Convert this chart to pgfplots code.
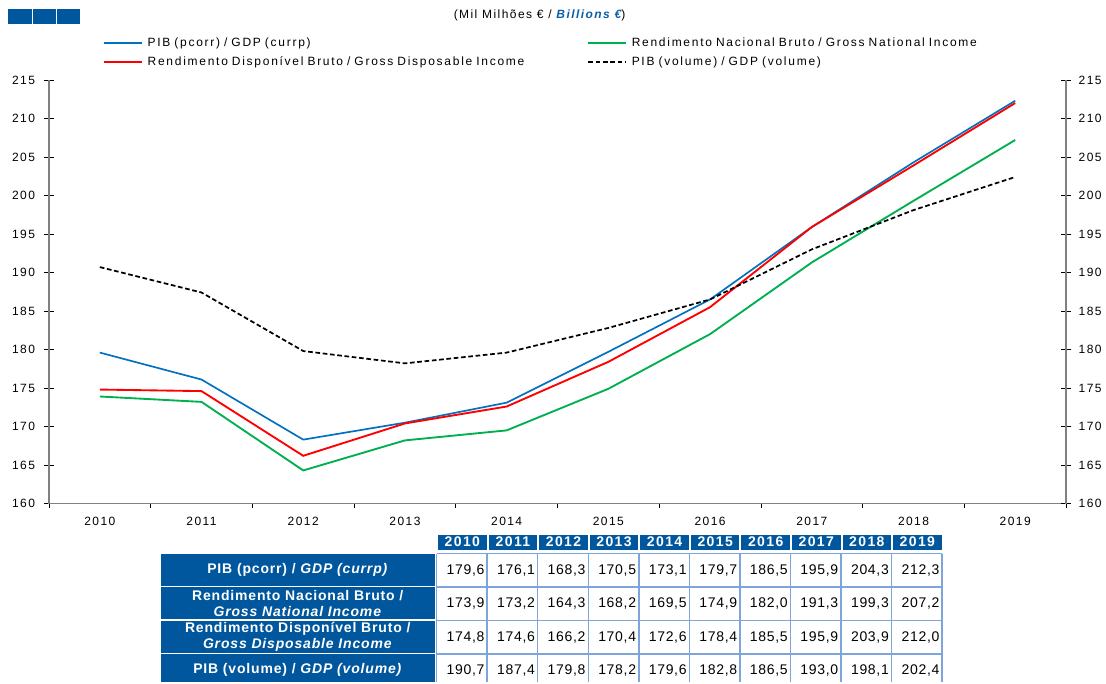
\documentclass[border=0pt]{standalone}
\usepackage{pgfplots}
\usepackage{pgfplotstable}
\pgfplotsset{compat=1.18}
\usepackage{fontspec}
\setmainfont{Liberation Sans}
\newfontfamily\spaced[LetterSpace=12]{Liberation Sans}
\newfontfamily\legfont[LetterSpace=14.5]{Liberation Sans}
\newfontfamily\valfont[LetterSpace=5]{Liberation Sans}
\newfontfamily\hdfont[LetterSpace=10]{Liberation Sans}
\newfontfamily\labfont[LetterSpace=6]{Liberation Sans}
\definecolor{lblue}{HTML}{0070C0}
\definecolor{lgreen}{HTML}{00B050}
\definecolor{lred}{HTML}{FF0000}
\definecolor{dblue}{HTML}{00579D}
\definecolor{tblue}{HTML}{0A5FA8}
\definecolor{gridblue}{HTML}{7DA5DC}
\definecolor{axgray}{HTML}{808080}

\pgfplotstableread{
x curr gni gdi vol
0 179.6 173.9 174.8 190.7
1 176.1 173.2 174.6 187.4
2 168.3 164.3 166.2 179.8
3 170.5 168.2 170.4 178.2
4 173.1 169.5 172.6 179.6
5 179.7 174.9 178.4 182.8
6 186.5 182.0 185.5 186.5
7 195.9 191.3 195.9 193.0
8 204.3 199.3 203.9 198.1
9 212.3 207.2 212.0 202.4
}\data

\begin{document}
\begin{tikzpicture}[x=0.75pt,y=0.75pt]
\path (0,0) rectangle (1106,-683);
% logo squares
\fill[dblue] (8,-9) rectangle (32,-24);
\fill[dblue] (33,-9) rectangle (56,-24);
\fill[dblue] (57,-9) rectangle (80,-24);
% title
\node[font=\spaced\fontsize{9}{11}\selectfont] at (540,-15) {(Mil Milhões € / \textcolor{tblue}{\bfseries\itshape Billions €})};

\begin{axis}[
  at={(36.75pt,-378pt)}, anchor=south west, scale only axis,
  width=763.5pt, height=318pt,
  xmin=-0.5, xmax=9.5, ymin=160, ymax=215,
  axis x line=bottom, axis y line=left,
  axis line style={-, draw=axgray, line width=0.9pt},
  xtick={0,1,2,3,4,5,6,7,8,9},
  xticklabels={2010,2011,2012,2013,2014,2015,2016,2017,2018,2019},
  major x tick style={draw=none},
  minor xtick={-0.5,0.5,...,9.5},
  minor x tick style={black, line width=0.6pt},
  minor tick length=3pt,
  xtick align=outside,
  ytick={160,165,...,215},
  ytick align=center,
  major tick length=7.5pt,
  y tick style={black, line width=0.6pt},
  /pgf/number format/assume math mode=true,
  tick label style={font=\spaced\fontsize{9}{11}\selectfont},
  yticklabel style={xshift=-3.2pt},
  xticklabel style={yshift=0.5pt},
  legend columns=2,
  /pgfplots/legend image code/.code={\draw[#1] (0pt,0pt) -- (28.5pt,0pt); \path (32pt,0pt);},
  legend style={at={(0.0491,1.1165)}, anchor=north west, draw=none, fill=none,
    font=\legfont\fontsize{9}{11}\selectfont, column sep=0pt, row sep=0pt,
    nodes={inner xsep=0pt, inner ysep=2.6pt, text height=7pt, text depth=2pt, text width=330pt, align=left}},
  legend cell align=left,
]
\addplot[lblue, line width=1.25pt] table[x=x,y=curr]{\data};
\addlegendentry{PIB (pcorr) / GDP (currp)}
\addplot[lgreen, line width=1.4pt] table[x=x,y=gni]{\data};
\addlegendentry{Rendimento Nacional Bruto / Gross National Income}
\addplot[lred, line width=1.4pt] table[x=x,y=gdi]{\data};
\addlegendentry{Rendimento Disponível Bruto / Gross Disposable Income}
\addplot[black, line width=1.3pt, dash pattern=on 3.5pt off 2pt] table[x=x,y=vol]{\data};
\addlegendentry{PIB (volume) / GDP (volume)}
\end{axis}

\begin{axis}[
  at={(36.75pt,-378pt)}, anchor=south west, scale only axis,
  width=763.5pt, height=318pt,
  xmin=-0.5, xmax=9.5, ymin=160, ymax=215,
  axis x line=none, axis y line=right,
  axis line style={-, draw=axgray, line width=0.9pt},
  ytick={160,165,...,215},
  ytick align=center,
  major tick length=7.5pt,
  y tick style={black, line width=0.6pt},
  /pgf/number format/assume math mode=true,
  tick label style={font=\spaced\fontsize{9}{11}\selectfont},
  yticklabel style={xshift=2.2pt},
]
\end{axis}

% table header
\foreach \yr [count=\i from 0] in {2010,2011,2012,2013,2014,2015,2016,2017,2018,2019} {
  \pgfmathsetmacro\xl{437+50.6*\i+1.5}
  \pgfmathsetmacro\xr{437+50.6*(\i+1)-0.5}
  \fill[dblue] (\xl,-535) rectangle (\xr,-550);
  \node[font=\hdfont\bfseries\fontsize{10.5}{12}\selectfont, text=white] at ({(\xl+\xr)/2},-542.5) {\yr};
}
% row label boxes
\foreach \r in {0,1,2} {
  \fill[dblue] (161,{-(554.5+33.5*\r)}) rectangle (435.5,{-(586.5+33.5*\r)});
}
\fill[dblue] (161,-655) rectangle (435.5,-683);
\begin{scope}[every node/.style={font=\labfont\bfseries\fontsize{10.5}{12}\selectfont, text=white, align=center}]
\node at (298,-570.75) {PIB (pcorr) / \textit{GDP (currp)}};
\node at (298,-604.25) {Rendimento Nacional Bruto /\\\textit{Gross National Income}};
\node at (298,-637.75) {Rendimento Disponível Bruto /\\\textit{Gross Disposable Income}};
\node at (298,-670.5) {PIB (volume) / \textit{GDP (volume)}};
\end{scope}
% grid
\foreach \i in {0,...,10} {
  \draw[gridblue, line width=1.1pt] ({437+50.6*\i},-554) -- ({437+50.6*\i},-683);
}
\foreach \yy in {554,587.5,621,654.5} {
  \draw[gridblue, line width=1.1pt] (437,-\yy) -- (943,-\yy);
}
% values
\foreach \col [count=\r from 0] in {curr,gni,gdi,vol} {
  \foreach \i in {0,...,9} {
    \pgfplotstablegetelem{\i}{\col}\of\data
    \pgfmathsetmacro\xr{437+50.6*(\i+1)-2.5}
    \pgfmathsetmacro\yc{-(570.75+33.5*\r)}
    \node[anchor=east, inner sep=0pt, font=\valfont\fontsize{10.5}{12}\selectfont] at (\xr,\yc)
      {\pgfmathprintnumber[fixed,fixed zerofill,precision=1,use comma,assume math mode=true]{\pgfplotsretval}};
  }
}
\end{tikzpicture}
\end{document}
